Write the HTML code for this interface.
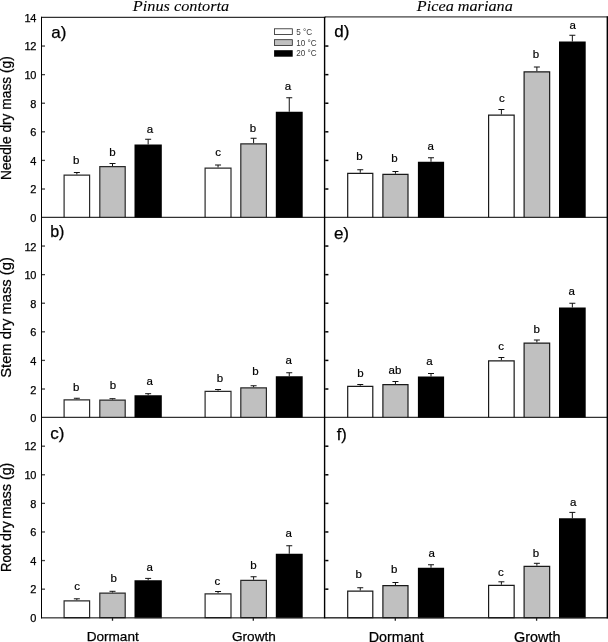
<!DOCTYPE html>
<html lang="en"><head><meta charset="utf-8"><title>Dry mass by temperature</title>
<style>html,body{margin:0;padding:0;background:#fff}svg text{white-space:pre;stroke:#000;stroke-width:.25px;fill:#000}svg{will-change:transform;transform:translateZ(0)}</style></head>
<body>
<svg width="608" height="642" viewBox="0 0 608 642" style="display:block">
<rect width="608" height="642" fill="#fff"/>
<path d="M76.85 174.50V172.50M73.85 172.50H79.85" stroke="#111" stroke-width="1" fill="none"/>
<path d="M64.10 217.30V175.10H89.60V217.30" fill="#fff" stroke="#2a2a2a" stroke-width="1.2"/>
<text x="76.25" y="163.75" font-family='"Liberation Sans", sans-serif' font-size="11.5" text-anchor="middle" style="stroke-width:.2px">b</text>
<path d="M112.50 166.10V163.50M109.50 163.50H115.50" stroke="#111" stroke-width="1" fill="none"/>
<path d="M99.80 217.30V166.70H125.20V217.30" fill="#c0c0c0" stroke="#2a2a2a" stroke-width="1.2"/>
<text x="112.50" y="155.50" font-family='"Liberation Sans", sans-serif' font-size="11.5" text-anchor="middle" style="stroke-width:.2px">b</text>
<path d="M148.15 144.50V139.25M145.15 139.25H151.15" stroke="#111" stroke-width="1" fill="none"/>
<rect x="134.50" y="144.50" width="27.30" height="73.10" fill="#000"/>
<text x="150.00" y="133.25" font-family='"Liberation Sans", sans-serif' font-size="11.5" text-anchor="middle" style="stroke-width:.2px">a</text>
<path d="M218.05 167.50V165.00M215.05 165.00H221.05" stroke="#111" stroke-width="1" fill="none"/>
<path d="M205.10 217.30V168.10H231.00V217.30" fill="#fff" stroke="#2a2a2a" stroke-width="1.2"/>
<text x="218.00" y="156.25" font-family='"Liberation Sans", sans-serif' font-size="11.5" text-anchor="middle" style="stroke-width:.2px">c</text>
<path d="M253.60 143.25V138.25M250.60 138.25H256.60" stroke="#111" stroke-width="1" fill="none"/>
<path d="M240.80 217.30V143.85H266.40V217.30" fill="#c0c0c0" stroke="#2a2a2a" stroke-width="1.2"/>
<text x="253.00" y="131.75" font-family='"Liberation Sans", sans-serif' font-size="11.5" text-anchor="middle" style="stroke-width:.2px">b</text>
<path d="M289.25 111.75V97.75M286.25 97.75H292.25" stroke="#111" stroke-width="1" fill="none"/>
<rect x="275.80" y="111.75" width="26.90" height="105.85" fill="#000"/>
<text x="288.00" y="89.70" font-family='"Liberation Sans", sans-serif' font-size="11.5" text-anchor="middle" style="stroke-width:.2px">a</text>
<path d="M76.85 399.25V398.25M73.85 398.25H79.85" stroke="#111" stroke-width="1" fill="none"/>
<path d="M64.10 417.30V399.85H89.60V417.30" fill="#fff" stroke="#2a2a2a" stroke-width="1.2"/>
<text x="76.25" y="391.25" font-family='"Liberation Sans", sans-serif' font-size="11.5" text-anchor="middle" style="stroke-width:.2px">b</text>
<path d="M112.50 399.50V398.70M109.50 398.70H115.50" stroke="#111" stroke-width="1" fill="none"/>
<path d="M99.80 417.30V400.10H125.20V417.30" fill="#c0c0c0" stroke="#2a2a2a" stroke-width="1.2"/>
<text x="112.90" y="389.25" font-family='"Liberation Sans", sans-serif' font-size="11.5" text-anchor="middle" style="stroke-width:.2px">b</text>
<path d="M148.15 395.25V393.70M145.15 393.70H151.15" stroke="#111" stroke-width="1" fill="none"/>
<rect x="134.50" y="395.25" width="27.30" height="22.35" fill="#000"/>
<text x="149.60" y="384.50" font-family='"Liberation Sans", sans-serif' font-size="11.5" text-anchor="middle" style="stroke-width:.2px">a</text>
<path d="M218.05 390.75V389.50M215.05 389.50H221.05" stroke="#111" stroke-width="1" fill="none"/>
<path d="M205.10 417.30V391.35H231.00V417.30" fill="#fff" stroke="#2a2a2a" stroke-width="1.2"/>
<text x="220.00" y="382.00" font-family='"Liberation Sans", sans-serif' font-size="11.5" text-anchor="middle" style="stroke-width:.2px">b</text>
<path d="M253.60 387.25V385.75M250.60 385.75H256.60" stroke="#111" stroke-width="1" fill="none"/>
<path d="M240.80 417.30V387.85H266.40V417.30" fill="#c0c0c0" stroke="#2a2a2a" stroke-width="1.2"/>
<text x="255.40" y="374.50" font-family='"Liberation Sans", sans-serif' font-size="11.5" text-anchor="middle" style="stroke-width:.2px">b</text>
<path d="M289.25 376.25V372.75M286.25 372.75H292.25" stroke="#111" stroke-width="1" fill="none"/>
<rect x="275.80" y="376.25" width="26.90" height="41.35" fill="#000"/>
<text x="288.75" y="363.75" font-family='"Liberation Sans", sans-serif' font-size="11.5" text-anchor="middle" style="stroke-width:.2px">a</text>
<path d="M76.85 600.25V598.80M73.85 598.80H79.85" stroke="#111" stroke-width="1" fill="none"/>
<path d="M64.10 617.45V600.85H89.60V617.45" fill="#fff" stroke="#2a2a2a" stroke-width="1.2"/>
<text x="77.10" y="590.25" font-family='"Liberation Sans", sans-serif' font-size="11.5" text-anchor="middle" style="stroke-width:.2px">c</text>
<path d="M112.50 592.50V591.30M109.50 591.30H115.50" stroke="#111" stroke-width="1" fill="none"/>
<path d="M99.80 617.45V593.10H125.20V617.45" fill="#c0c0c0" stroke="#2a2a2a" stroke-width="1.2"/>
<text x="113.75" y="581.50" font-family='"Liberation Sans", sans-serif' font-size="11.5" text-anchor="middle" style="stroke-width:.2px">b</text>
<path d="M148.15 580.25V578.40M145.15 578.40H151.15" stroke="#111" stroke-width="1" fill="none"/>
<rect x="134.50" y="580.25" width="27.30" height="37.50" fill="#000"/>
<text x="149.60" y="571.25" font-family='"Liberation Sans", sans-serif' font-size="11.5" text-anchor="middle" style="stroke-width:.2px">a</text>
<path d="M218.05 593.25V591.50M215.05 591.50H221.05" stroke="#111" stroke-width="1" fill="none"/>
<path d="M205.10 617.45V593.85H231.00V617.45" fill="#fff" stroke="#2a2a2a" stroke-width="1.2"/>
<text x="217.25" y="585.00" font-family='"Liberation Sans", sans-serif' font-size="11.5" text-anchor="middle" style="stroke-width:.2px">c</text>
<path d="M253.60 579.75V576.75M250.60 576.75H256.60" stroke="#111" stroke-width="1" fill="none"/>
<path d="M240.80 617.45V580.35H266.40V617.45" fill="#c0c0c0" stroke="#2a2a2a" stroke-width="1.2"/>
<text x="253.50" y="568.75" font-family='"Liberation Sans", sans-serif' font-size="11.5" text-anchor="middle" style="stroke-width:.2px">b</text>
<path d="M289.25 553.75V545.75M286.25 545.75H292.25" stroke="#111" stroke-width="1" fill="none"/>
<rect x="275.80" y="553.75" width="26.90" height="64.00" fill="#000"/>
<text x="288.75" y="537.00" font-family='"Liberation Sans", sans-serif' font-size="11.5" text-anchor="middle" style="stroke-width:.2px">a</text>
<path d="M360.25 172.75V169.75M357.25 169.75H363.25" stroke="#111" stroke-width="1" fill="none"/>
<path d="M347.70 217.30V173.35H372.80V217.30" fill="#fff" stroke="#1a1a1a" stroke-width="1.2"/>
<text x="359.50" y="160.00" font-family='"Liberation Sans", sans-serif' font-size="11.5" text-anchor="middle" style="stroke-width:.2px">b</text>
<path d="M395.45 173.75V171.50M392.45 171.50H398.45" stroke="#111" stroke-width="1" fill="none"/>
<path d="M382.90 217.30V174.35H408.00V217.30" fill="#c0c0c0" stroke="#1a1a1a" stroke-width="1.2"/>
<text x="394.50" y="162.25" font-family='"Liberation Sans", sans-serif' font-size="11.5" text-anchor="middle" style="stroke-width:.2px">b</text>
<path d="M431.00 161.75V157.75M428.00 157.75H434.00" stroke="#111" stroke-width="1" fill="none"/>
<rect x="417.90" y="161.75" width="26.20" height="55.85" fill="#000"/>
<text x="430.75" y="149.50" font-family='"Liberation Sans", sans-serif' font-size="11.5" text-anchor="middle" style="stroke-width:.2px">a</text>
<path d="M501.38 114.50V109.50M498.38 109.50H504.38" stroke="#111" stroke-width="1" fill="none"/>
<path d="M488.60 217.30V115.10H514.15V217.30" fill="#fff" stroke="#1a1a1a" stroke-width="1.2"/>
<text x="501.75" y="102.00" font-family='"Liberation Sans", sans-serif' font-size="11.5" text-anchor="middle" style="stroke-width:.2px">c</text>
<path d="M536.88 71.25V67.00M533.88 67.00H539.88" stroke="#111" stroke-width="1" fill="none"/>
<path d="M524.10 217.30V71.85H549.65V217.30" fill="#c0c0c0" stroke="#1a1a1a" stroke-width="1.2"/>
<text x="536.00" y="58.00" font-family='"Liberation Sans", sans-serif' font-size="11.5" text-anchor="middle" style="stroke-width:.2px">b</text>
<path d="M572.35 41.50V35.25M569.35 35.25H575.35" stroke="#111" stroke-width="1" fill="none"/>
<rect x="559.00" y="41.50" width="26.70" height="176.10" fill="#000"/>
<text x="572.75" y="28.50" font-family='"Liberation Sans", sans-serif' font-size="11.5" text-anchor="middle" style="stroke-width:.2px">a</text>
<path d="M360.25 385.75V384.50M357.25 384.50H363.25" stroke="#111" stroke-width="1" fill="none"/>
<path d="M347.70 417.30V386.35H372.80V417.30" fill="#fff" stroke="#1a1a1a" stroke-width="1.2"/>
<text x="360.50" y="376.75" font-family='"Liberation Sans", sans-serif' font-size="11.5" text-anchor="middle" style="stroke-width:.2px">b</text>
<path d="M395.45 384.00V381.50M392.45 381.50H398.45" stroke="#111" stroke-width="1" fill="none"/>
<path d="M382.90 417.30V384.60H408.00V417.30" fill="#c0c0c0" stroke="#1a1a1a" stroke-width="1.2"/>
<text x="395.00" y="374.25" font-family='"Liberation Sans", sans-serif' font-size="11.5" text-anchor="middle" style="stroke-width:.2px">ab</text>
<path d="M431.00 376.50V373.50M428.00 373.50H434.00" stroke="#111" stroke-width="1" fill="none"/>
<rect x="417.90" y="376.50" width="26.20" height="41.10" fill="#000"/>
<text x="429.50" y="365.00" font-family='"Liberation Sans", sans-serif' font-size="11.5" text-anchor="middle" style="stroke-width:.2px">a</text>
<path d="M501.38 360.25V357.50M498.38 357.50H504.38" stroke="#111" stroke-width="1" fill="none"/>
<path d="M488.60 417.30V360.85H514.15V417.30" fill="#fff" stroke="#1a1a1a" stroke-width="1.2"/>
<text x="501.00" y="350.00" font-family='"Liberation Sans", sans-serif' font-size="11.5" text-anchor="middle" style="stroke-width:.2px">c</text>
<path d="M536.88 342.50V340.00M533.88 340.00H539.88" stroke="#111" stroke-width="1" fill="none"/>
<path d="M524.10 417.30V343.10H549.65V417.30" fill="#c0c0c0" stroke="#1a1a1a" stroke-width="1.2"/>
<text x="536.75" y="332.50" font-family='"Liberation Sans", sans-serif' font-size="11.5" text-anchor="middle" style="stroke-width:.2px">b</text>
<path d="M572.35 307.50V303.25M569.35 303.25H575.35" stroke="#111" stroke-width="1" fill="none"/>
<rect x="559.00" y="307.50" width="26.70" height="110.10" fill="#000"/>
<text x="571.75" y="295.00" font-family='"Liberation Sans", sans-serif' font-size="11.5" text-anchor="middle" style="stroke-width:.2px">a</text>
<path d="M360.25 590.50V587.75M357.25 587.75H363.25" stroke="#111" stroke-width="1" fill="none"/>
<path d="M347.70 617.45V591.10H372.80V617.45" fill="#fff" stroke="#1a1a1a" stroke-width="1.2"/>
<text x="358.75" y="577.50" font-family='"Liberation Sans", sans-serif' font-size="11.5" text-anchor="middle" style="stroke-width:.2px">b</text>
<path d="M395.45 585.00V582.50M392.45 582.50H398.45" stroke="#111" stroke-width="1" fill="none"/>
<path d="M382.90 617.45V585.60H408.00V617.45" fill="#c0c0c0" stroke="#1a1a1a" stroke-width="1.2"/>
<text x="394.25" y="573.25" font-family='"Liberation Sans", sans-serif' font-size="11.5" text-anchor="middle" style="stroke-width:.2px">b</text>
<path d="M431.00 567.75V564.75M428.00 564.75H434.00" stroke="#111" stroke-width="1" fill="none"/>
<rect x="417.90" y="567.75" width="26.20" height="50.00" fill="#000"/>
<text x="431.75" y="556.75" font-family='"Liberation Sans", sans-serif' font-size="11.5" text-anchor="middle" style="stroke-width:.2px">a</text>
<path d="M501.38 584.75V581.80M498.38 581.80H504.38" stroke="#111" stroke-width="1" fill="none"/>
<path d="M488.60 617.45V585.35H514.15V617.45" fill="#fff" stroke="#1a1a1a" stroke-width="1.2"/>
<text x="500.80" y="576.20" font-family='"Liberation Sans", sans-serif' font-size="11.5" text-anchor="middle" style="stroke-width:.2px">c</text>
<path d="M536.88 565.70V563.30M533.88 563.30H539.88" stroke="#111" stroke-width="1" fill="none"/>
<path d="M524.10 617.45V566.30H549.65V617.45" fill="#c0c0c0" stroke="#1a1a1a" stroke-width="1.2"/>
<text x="535.90" y="556.60" font-family='"Liberation Sans", sans-serif' font-size="11.5" text-anchor="middle" style="stroke-width:.2px">b</text>
<path d="M572.35 518.25V512.40M569.35 512.40H575.35" stroke="#111" stroke-width="1" fill="none"/>
<rect x="559.00" y="518.25" width="26.70" height="99.50" fill="#000"/>
<text x="573.20" y="505.70" font-family='"Liberation Sans", sans-serif' font-size="11.5" text-anchor="middle" style="stroke-width:.2px">a</text>
<rect x="41" y="16.8" width="284.5" height="1" fill="#000"/>
<rect x="325" y="16.3" width="283" height="1.2" fill="#3a3a3a"/>
<rect x="41" y="216.80" width="567" height="1" fill="#000"/>
<rect x="41" y="416.80" width="567" height="1" fill="#000"/>
<rect x="41" y="617.05" width="284" height="1.5" fill="#555"/>
<rect x="325" y="617.05" width="283" height="1.5" fill="#333"/>
<rect x="41" y="16.8" width="1" height="601.55" fill="#000"/>
<rect x="323.9" y="16.8" width="1.4" height="601.55" fill="#000"/>
<rect x="606.6" y="16.4" width="1.4" height="601.95" fill="#000"/>
<text x="36.4" y="222.40" font-family='"Liberation Sans", sans-serif' font-size="11" text-anchor="end" >0</text>
<rect x="42" y="188.36" width="3" height="1.3" fill="#444"/>
<rect x="325.2" y="188.26" width="3.2" height="1.5" fill="#000"/>
<text x="36.4" y="193.31" font-family='"Liberation Sans", sans-serif' font-size="11" text-anchor="end" >2</text>
<rect x="42" y="159.76" width="3" height="1.3" fill="#444"/>
<rect x="325.2" y="159.66" width="3.2" height="1.5" fill="#000"/>
<text x="36.4" y="164.71" font-family='"Liberation Sans", sans-serif' font-size="11" text-anchor="end" >4</text>
<rect x="42" y="131.17" width="3" height="1.3" fill="#444"/>
<rect x="325.2" y="131.07" width="3.2" height="1.5" fill="#000"/>
<text x="36.4" y="136.12" font-family='"Liberation Sans", sans-serif' font-size="11" text-anchor="end" >6</text>
<rect x="42" y="102.58" width="3" height="1.3" fill="#444"/>
<rect x="325.2" y="102.48" width="3.2" height="1.5" fill="#000"/>
<text x="36.4" y="107.53" font-family='"Liberation Sans", sans-serif' font-size="11" text-anchor="end" >8</text>
<rect x="42" y="73.99" width="3" height="1.3" fill="#444"/>
<rect x="325.2" y="73.89" width="3.2" height="1.5" fill="#000"/>
<text x="35.8" y="78.94" font-family='"Liberation Sans", sans-serif' font-size="11" text-anchor="end" letter-spacing="-0.5">10</text>
<rect x="42" y="45.39" width="3" height="1.3" fill="#444"/>
<rect x="325.2" y="45.29" width="3.2" height="1.5" fill="#000"/>
<text x="35.8" y="50.34" font-family='"Liberation Sans", sans-serif' font-size="11" text-anchor="end" letter-spacing="-0.5">12</text>
<text x="35.8" y="21.75" font-family='"Liberation Sans", sans-serif' font-size="11" text-anchor="end" letter-spacing="-0.5">14</text>
<text x="36.4" y="422.20" font-family='"Liberation Sans", sans-serif' font-size="11" text-anchor="end" >0</text>
<rect x="42" y="388.36" width="3" height="1.3" fill="#444"/>
<rect x="325.2" y="388.26" width="3.2" height="1.5" fill="#000"/>
<text x="36.4" y="393.61" font-family='"Liberation Sans", sans-serif' font-size="11" text-anchor="end" >2</text>
<rect x="42" y="359.76" width="3" height="1.3" fill="#444"/>
<rect x="325.2" y="359.66" width="3.2" height="1.5" fill="#000"/>
<text x="36.4" y="365.01" font-family='"Liberation Sans", sans-serif' font-size="11" text-anchor="end" >4</text>
<rect x="42" y="331.17" width="3" height="1.3" fill="#444"/>
<rect x="325.2" y="331.07" width="3.2" height="1.5" fill="#000"/>
<text x="36.4" y="336.42" font-family='"Liberation Sans", sans-serif' font-size="11" text-anchor="end" >6</text>
<rect x="42" y="302.58" width="3" height="1.3" fill="#444"/>
<rect x="325.2" y="302.48" width="3.2" height="1.5" fill="#000"/>
<text x="36.4" y="307.83" font-family='"Liberation Sans", sans-serif' font-size="11" text-anchor="end" >8</text>
<rect x="42" y="273.99" width="3" height="1.3" fill="#444"/>
<rect x="325.2" y="273.89" width="3.2" height="1.5" fill="#000"/>
<text x="35.8" y="279.24" font-family='"Liberation Sans", sans-serif' font-size="11" text-anchor="end" letter-spacing="-0.5">10</text>
<rect x="42" y="245.39" width="3" height="1.3" fill="#444"/>
<rect x="325.2" y="245.29" width="3.2" height="1.5" fill="#000"/>
<text x="35.8" y="250.64" font-family='"Liberation Sans", sans-serif' font-size="11" text-anchor="end" letter-spacing="-0.5">12</text>
<text x="36.4" y="622.05" font-family='"Liberation Sans", sans-serif' font-size="11" text-anchor="end" >0</text>
<rect x="42" y="588.51" width="3" height="1.3" fill="#444"/>
<rect x="325.2" y="588.41" width="3.2" height="1.5" fill="#000"/>
<text x="36.4" y="593.46" font-family='"Liberation Sans", sans-serif' font-size="11" text-anchor="end" >2</text>
<rect x="42" y="559.91" width="3" height="1.3" fill="#444"/>
<rect x="325.2" y="559.81" width="3.2" height="1.5" fill="#000"/>
<text x="36.4" y="564.86" font-family='"Liberation Sans", sans-serif' font-size="11" text-anchor="end" >4</text>
<rect x="42" y="531.32" width="3" height="1.3" fill="#444"/>
<rect x="325.2" y="531.22" width="3.2" height="1.5" fill="#000"/>
<text x="36.4" y="536.27" font-family='"Liberation Sans", sans-serif' font-size="11" text-anchor="end" >6</text>
<rect x="42" y="502.73" width="3" height="1.3" fill="#444"/>
<rect x="325.2" y="502.63" width="3.2" height="1.5" fill="#000"/>
<text x="36.4" y="507.68" font-family='"Liberation Sans", sans-serif' font-size="11" text-anchor="end" >8</text>
<rect x="42" y="474.14" width="3" height="1.3" fill="#444"/>
<rect x="325.2" y="474.04" width="3.2" height="1.5" fill="#000"/>
<text x="35.8" y="479.09" font-family='"Liberation Sans", sans-serif' font-size="11" text-anchor="end" letter-spacing="-0.5">10</text>
<rect x="42" y="445.54" width="3" height="1.3" fill="#444"/>
<rect x="325.2" y="445.44" width="3.2" height="1.5" fill="#000"/>
<text x="35.8" y="450.49" font-family='"Liberation Sans", sans-serif' font-size="11" text-anchor="end" letter-spacing="-0.5">12</text>
<rect x="111.85" y="617.75" width="1.3" height="3" fill="#222"/>
<rect x="252.65" y="617.75" width="1.3" height="3" fill="#222"/>
<rect x="394.65" y="617.75" width="1.3" height="3" fill="#222"/>
<rect x="535.95" y="617.75" width="1.3" height="3" fill="#222"/>
<rect x="63.50" y="617.05" width="26.70" height="1.2" fill="#1a1a1a"/>
<rect x="99.20" y="617.05" width="26.60" height="1.2" fill="#1a1a1a"/>
<rect x="134.50" y="617.05" width="27.30" height="1.2" fill="#1a1a1a"/>
<rect x="204.50" y="617.05" width="27.10" height="1.2" fill="#1a1a1a"/>
<rect x="240.20" y="617.05" width="26.80" height="1.2" fill="#1a1a1a"/>
<rect x="275.80" y="617.05" width="26.90" height="1.2" fill="#1a1a1a"/>
<rect x="347.10" y="617.05" width="26.30" height="1.2" fill="#1a1a1a"/>
<rect x="382.30" y="617.05" width="26.30" height="1.2" fill="#1a1a1a"/>
<rect x="417.90" y="617.05" width="26.20" height="1.2" fill="#1a1a1a"/>
<rect x="488.00" y="617.05" width="26.75" height="1.2" fill="#1a1a1a"/>
<rect x="523.50" y="617.05" width="26.75" height="1.2" fill="#1a1a1a"/>
<rect x="559.00" y="617.05" width="26.70" height="1.2" fill="#1a1a1a"/>
<text x="112.7" y="641.4" font-family='"Liberation Sans", sans-serif' font-size="13.6" text-anchor="middle" >Dormant</text>
<text x="253.9" y="641.4" font-family='"Liberation Sans", sans-serif' font-size="13.6" text-anchor="middle" >Growth</text>
<text x="396.2" y="641.8" font-family='"Liberation Sans", sans-serif' font-size="14.35" text-anchor="middle" >Dormant</text>
<text x="537.2" y="641.8" font-family='"Liberation Sans", sans-serif' font-size="14.4" text-anchor="middle" >Growth</text>
<text transform="translate(181 10.6) scale(1.045 1)" font-family='"Liberation Serif", serif' font-style="italic" font-size="15.6" text-anchor="middle" style="stroke-width:.1px">Pinus contorta</text>
<text transform="translate(464.8 10.6) scale(1.04 1)" font-family='"Liberation Serif", serif' font-style="italic" font-size="15.6" text-anchor="middle" style="stroke-width:.1px">Picea mariana</text>
<text transform="translate(11.4 180.0) rotate(-90)" font-family='"Liberation Sans", sans-serif' font-size="13.75" >Needle dry mass (g)</text>
<text transform="translate(10.5 377.8) rotate(-90)" font-family='"Liberation Sans", sans-serif' font-size="14.77" >Stem dry mass (g)</text>
<text transform="translate(10.7 571.9) rotate(-90) scale(0.943 1)" font-family='"Liberation Sans", sans-serif' font-size="13.8" >Root</text>
<text transform="translate(10.7 540.9) rotate(-90) scale(1.03 1)" font-family='"Liberation Sans", sans-serif' font-size="13.8" >dry</text>
<text transform="translate(10.7 518.7) rotate(-90) scale(1.056 1)" font-family='"Liberation Sans", sans-serif' font-size="13.8" >mass</text>
<text transform="translate(10.7 480.0) rotate(-90) scale(1.027 1)" font-family='"Liberation Sans", sans-serif' font-size="13.8" >(g)</text>
<text x="51.2" y="37.6" font-family='"Liberation Sans", sans-serif' font-size="17" >a)</text>
<text x="50.2" y="237.35" font-family='"Liberation Sans", sans-serif' font-size="16" >b)</text>
<text x="50.2" y="438.6" font-family='"Liberation Sans", sans-serif' font-size="17" >c)</text>
<text x="334.3" y="37.4" font-family='"Liberation Sans", sans-serif' font-size="17" >d)</text>
<text x="333.9" y="238.6" font-family='"Liberation Sans", sans-serif' font-size="17" >e)</text>
<text x="336.7" y="440.1" font-family='"Liberation Sans", sans-serif' font-size="16.5" >f)</text>
<rect x="274.5" y="28.80" width="17.8" height="5.7" fill="#fff" stroke="#222" stroke-width="0.8"/>
<text x="296.3" y="34.60" font-family='"Liberation Sans", sans-serif' font-size="8.15" style="fill:#3c3c3c;stroke:none">5 °C</text>
<rect x="274.5" y="39.70" width="17.8" height="5.7" fill="#c0c0c0" stroke="#222" stroke-width="0.8"/>
<text x="296.3" y="45.50" font-family='"Liberation Sans", sans-serif' font-size="8.15" style="fill:#3c3c3c;stroke:none">10 °C</text>
<rect x="274.1" y="50.20" width="18.6" height="6.5" fill="#000"/>
<text x="296.3" y="56.40" font-family='"Liberation Sans", sans-serif' font-size="8.15" style="fill:#3c3c3c;stroke:none">20 °C</text>
</svg>
</body></html>
